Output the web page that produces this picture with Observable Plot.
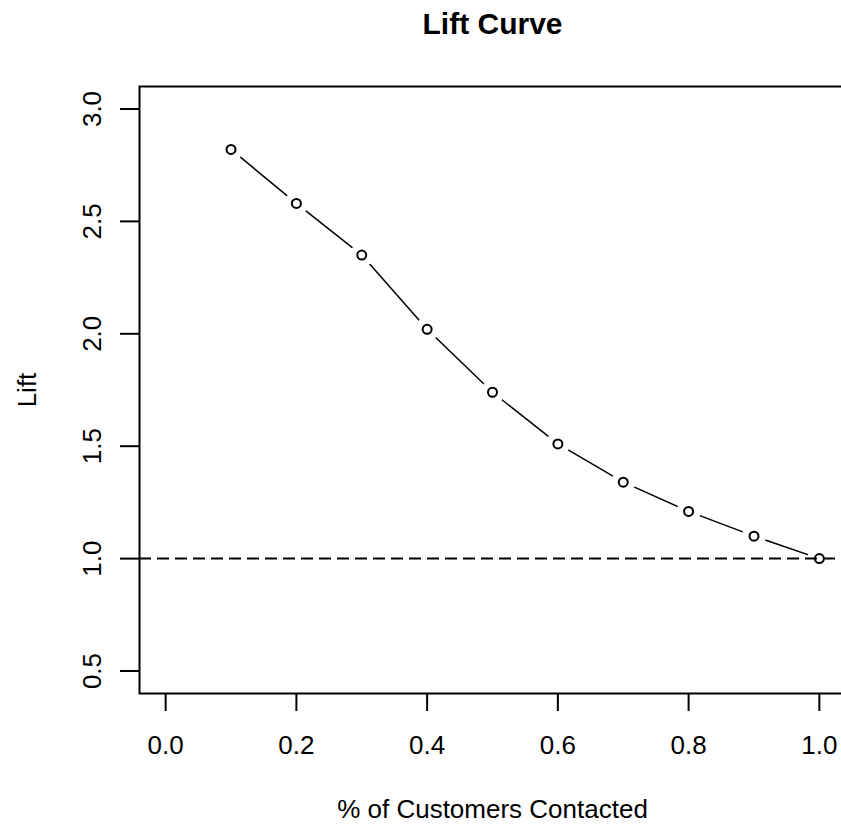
<!DOCTYPE html>
<html>
<head>
<meta charset="utf-8">
<script src="https://cdn.jsdelivr.net/npm/d3@7"></script>
<script src="https://cdn.jsdelivr.net/npm/@observablehq/plot@0.6"></script>
<style>
  html, body { margin: 0; padding: 0; background: #fff; }
</style>
</head>
<body>
<div id="chart"></div>
<script>
// Data
const pctContacted = [0.1, 0.2, 0.3, 0.4, 0.5, 0.6, 0.7, 0.8, 0.9, 1.0];
const lift = [2.82, 2.58, 2.35, 2.02, 1.74, 1.51, 1.34, 1.21, 1.10, 1.00];
const baselineLift = [1.0];
const xTicks = [0, 0.2, 0.4, 0.6, 0.8, 1.0];
const yTicks = [0.5, 1.0, 1.5, 2.0, 2.5, 3.0];
const titleText = "Lift Curve";
const xLabel = "% of Customers Contacted";
const yLabel = "Lift";

const data = pctContacted.map((x, i) => ({x, y: lift[i]}));
const fmt = d3.format(".1f");

const chart = Plot.plot({
  width: 841,
  height: 825,
  marginTop: 86,
  marginBottom: 132,
  marginLeft: 139,
  marginRight: -4,
  style: {fontFamily: "'Liberation Sans', Arial, sans-serif", fontSize: "26px", color: "#000", background: "#fff"},
  x: {domain: [-0.04, 1.04]},
  y: {domain: [0.4, 3.1]},
  marks: [
    Plot.line(data, {x: "x", y: "y", stroke: "#000", strokeWidth: 1.5}),
    Plot.dot(data, {x: "x", y: "y", r: 12, fill: "#fff", stroke: null}),
    Plot.ruleY(baselineLift, {stroke: "#000", strokeWidth: 2, strokeDasharray: "12,6"}),
    Plot.dot(data, {x: "x", y: "y", r: 4.5, fill: "none", stroke: "#000", strokeWidth: 2}),
    Plot.frame({stroke: "#000", strokeWidth: 2}),
    Plot.axisX({ticks: xTicks, tickSize: 18, tickPadding: 24, strokeWidth: 2, tickFormat: fmt, label: null, fontSize: 26}),
    Plot.axisY({ticks: yTicks, tickSize: 19, strokeWidth: 2, tickFormat: () => "", label: null}),
    Plot.text(yTicks, {y: d => d, text: d => fmt(d), frameAnchor: "left", dx: -39, rotate: -90, lineAnchor: "bottom", textAnchor: "middle", fontSize: 26}),
    Plot.text([yLabel], {frameAnchor: "left", dx: -104, rotate: -90, lineAnchor: "bottom", textAnchor: "middle", fontSize: 26}),
    Plot.text([xLabel], {frameAnchor: "bottom", dy: 124, lineAnchor: "bottom", fontSize: 26}),
    Plot.text([titleText], {frameAnchor: "top", dy: -53, lineAnchor: "bottom", fontSize: 30, fontWeight: "bold"})
  ]
});
document.getElementById("chart").appendChild(chart);
</script>
</body>
</html>
